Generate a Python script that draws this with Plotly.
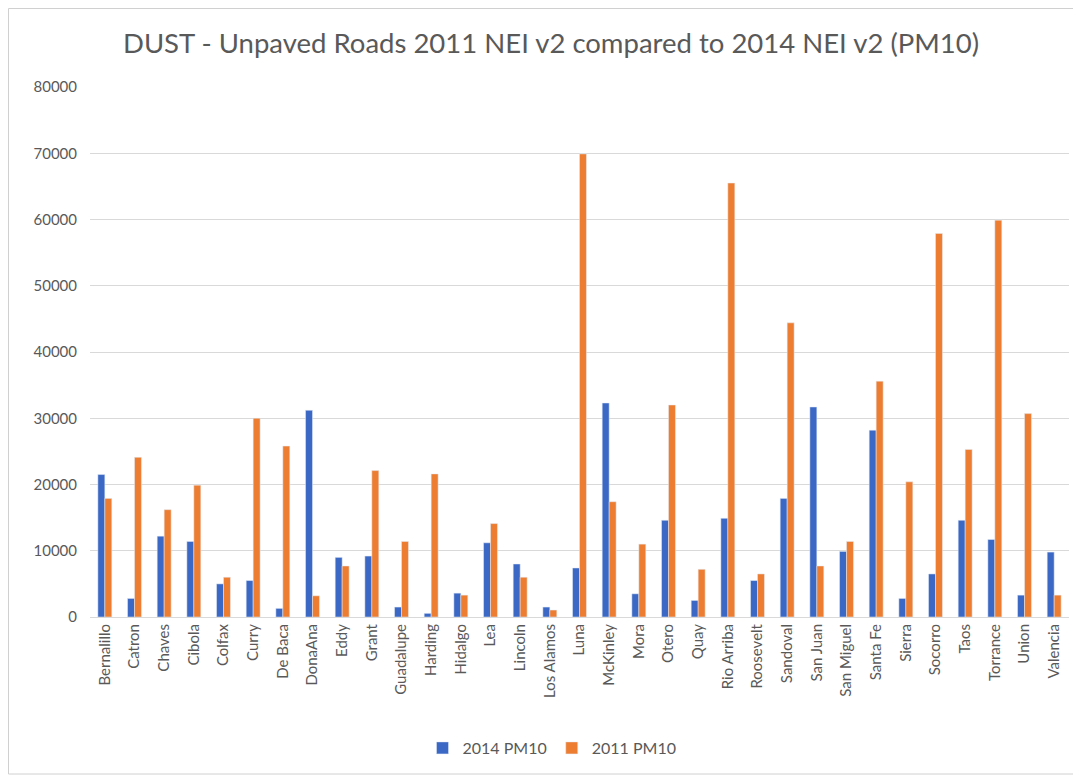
import plotly.graph_objects as go

counties = ["Bernalillo", "Catron", "Chaves", "Cibola", "Colfax", "Curry", "De Baca", "DonaAna",
            "Eddy", "Grant", "Guadalupe", "Harding", "Hidalgo", "Lea", "Lincoln", "Los Alamos",
            "Luna", "McKinley", "Mora", "Otero", "Quay", "Rio Arriba", "Roosevelt", "Sandoval",
            "San Juan", "San Miguel", "Santa Fe", "Sierra", "Socorro", "Taos", "Torrance",
            "Union", "Valencia"]

pm10_2014 = [21500, 2800, 12200, 11400, 5000, 5500, 1300, 31200,
             9000, 9200, 1500, 550, 3600, 11200, 8000, 1500,
             7400, 32300, 3500, 14600, 2500, 14900, 5500, 17900,
             31700, 9900, 28200, 2800, 6500, 14600, 11700,
             3300, 9800]

pm10_2011 = [17900, 24100, 16200, 19900, 6000, 30000, 25800, 3200,
             7700, 22100, 11400, 21600, 3300, 14100, 6000, 1050,
             69900, 17400, 11000, 32000, 7200, 65500, 6500, 44400,
             7700, 11400, 35600, 20400, 57900, 25300, 59900,
             30700, 3300]

y_ticks = [0, 10000, 20000, 30000, 40000, 50000, 60000, 70000, 80000]

OFF = 8  # page body margin
W, H = 1081 - OFF, 778 - OFF
L, T = 90 - OFF, 87 - OFF
R = W - (1069 - OFF)
B = H - (617 - OFF)
pw, ph = W - L - R, H - T - B

def px_x(x):
    return (x - OFF - L) / pw

def px_y(y):
    return ((617 - OFF) - (y - OFF)) / ph

fig = go.Figure()
fig.add_trace(go.Bar(name="2014 PM10", x=counties, y=pm10_2014, marker_color="#3b68c4"))
fig.add_trace(go.Bar(name="2011 PM10", x=counties, y=pm10_2011, marker_color="#ed7d31"))

font_family = "Lato, 'Open Sans', sans-serif"

fig.update_layout(
    width=W, height=H,
    margin=dict(l=L, r=R, t=T, b=B),
    paper_bgcolor="white", plot_bgcolor="white",
    barmode="group", bargap=0.53, bargroupgap=0.0,
    font=dict(family=font_family, color="#595959", size=14),
    title=dict(text="DUST - Unpaved Roads 2011 NEI v2 compared to 2014 NEI v2 (PM10)",
               x=(551 - OFF) / W, xanchor="center", y=1 - (43 - OFF) / H, yanchor="middle",
               font=dict(size=27.5, color="#595959", family=font_family)),
    legend=dict(orientation="h", x=px_x(552), xanchor="center",
                y=px_y(748), yanchor="middle",
                font=dict(size=16, color="#595959"), itemwidth=30,
                traceorder="normal"),
    showlegend=True,
)
fig.update_xaxes(tickangle=-90, showgrid=False, showline=True, linecolor="#d9d9d9",
                 linewidth=1, ticks="", tickfont=dict(size=15, color="#595959"))
fig.update_yaxes(range=[0, 80000], tickvals=y_ticks, showgrid=True, gridcolor="#d9d9d9",
                 gridwidth=1, zeroline=False, showline=False, ticks="",
                 tickformat="d", ticklabelstandoff=12,
                 tickfont=dict(size=15, color="#595959"))

# chart border
fig.add_shape(type="rect", xref="paper", yref="paper",
              x0=px_x(8.5), x1=px_x(1078),
              y0=px_y(774), y1=px_y(8.5),
              line=dict(color="#d0d0d0", width=1), fillcolor="rgba(0,0,0,0)", layer="below")

fig.write_html("out.html")
